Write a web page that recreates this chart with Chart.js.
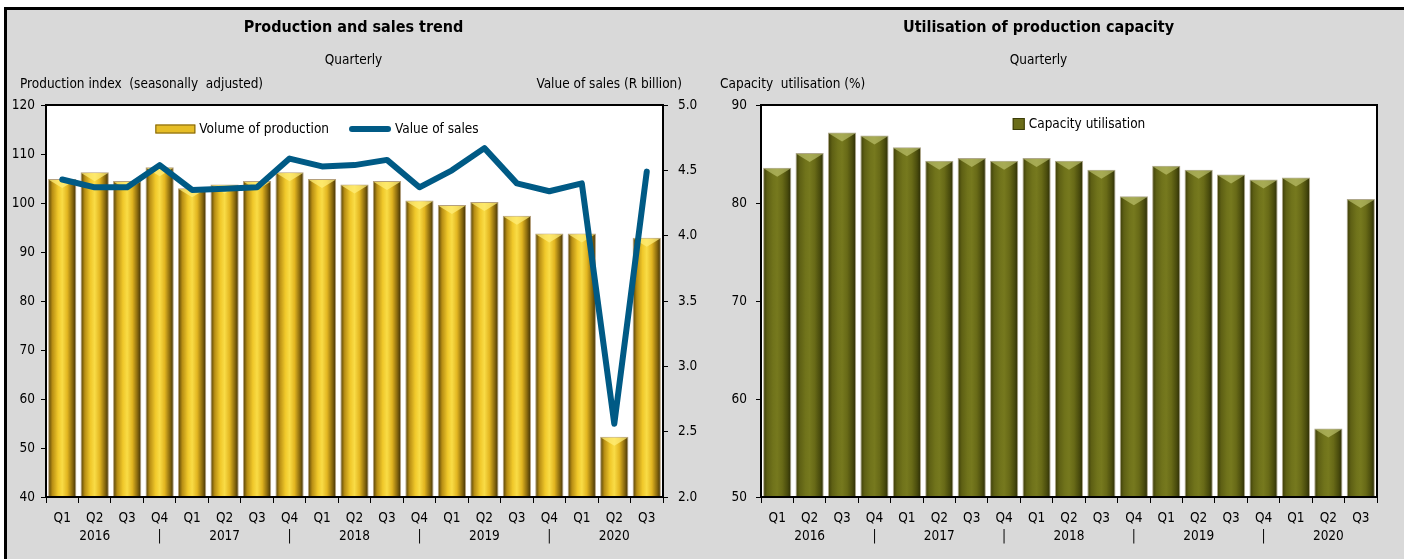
<!DOCTYPE html>
<html lang="en">
<head>
    <meta charset="UTF-8">
    <title>Production and capacity</title>
    <script src="https://cdn.jsdelivr.net/npm/chart.js"></script>
    <style>
        html, body { margin: 0; padding: 0; background: #fff; }
        .panel {
            position: absolute;
            left: 4px;
            top: 7px;
            width: 1397px;
            height: 549px;
            background: #d9d9d9;
            border-top: 3px solid #000;
            border-left: 3px solid #000;
        }
        #prodChart { position: absolute; left: 0; top: 0; }
        #capChart { position: absolute; left: 693px; top: 0; }
    </style>
</head>
<body>
    <div class="panel">
        <canvas id="prodChart" width="693" height="549"></canvas>
        <canvas id="capChart" width="704" height="549"></canvas>
    </div>

    <script>
        // Data
        const quarters = ['Q1', 'Q2', 'Q3', 'Q4', 'Q1', 'Q2', 'Q3', 'Q4', 'Q1', 'Q2', 'Q3', 'Q4',
                          'Q1', 'Q2', 'Q3', 'Q4', 'Q1', 'Q2', 'Q3'];
        const yearRow = ['', '2016', '', '|', '', '2017', '', '|', '', '2018', '', '|',
                         '', '2019', '', '|', '', '2020', ''];
        const productionVolume = [104.9, 106.3, 104.5, 107.3, 103.0, 103.8, 104.5, 106.3, 104.9, 103.8,
                                  104.5, 100.5, 99.6, 100.2, 97.4, 93.8, 93.8, 52.3, 92.9];
        const salesValue = [4.43, 4.37, 4.37, 4.54, 4.35, 4.36, 4.37, 4.59, 4.53, 4.54,
                            4.58, 4.37, 4.50, 4.67, 4.40, 4.34, 4.40, 2.56, 4.49];
        const capacityUtil = [83.6, 85.1, 87.2, 86.9, 85.7, 84.3, 84.6, 84.3, 84.6, 84.3,
                              83.4, 80.7, 83.8, 83.4, 82.9, 82.4, 82.6, 57.0, 80.4];

        const labels = quarters.map((q, i) => [q, yearRow[i]]);

        const FONT = "'Liberation Sans Narrow', 'Arial Narrow', 'DejaVu Sans Condensed', sans-serif";
        const FS = 13.5;
        Chart.defaults.font.family = FONT;
        Chart.defaults.font.size = FS;
        Chart.defaults.color = '#000';

        const BAR_PCT = 0.87;
        const goldStops = ['#4a3a08', '#b88e14', '#f0c82a', '#f9dc46', '#e2b520', '#8a6a0e', '#3a2c04'];
        const oliveStops = ['#3a3b08', '#5e6014', '#70731b', '#76791e', '#686a17', '#4a4c0d', '#2a2b05'];

        // horizontal gradient across each bar, positioned from the x scale
        function barFill(stops) {
            return (ctx) => {
                const chart = ctx.chart;
                const xs = chart.scales.x;
                if (ctx.type !== 'data' || !xs || !xs.width) return stops[3];
                const cx = xs.getPixelForValue(ctx.dataIndex);
                const half = xs.width / labels.length * BAR_PCT / 2;
                const g = chart.ctx.createLinearGradient(cx - half, 0, cx + half, 0);
                const pos = [0, 0.15, 0.35, 0.5, 0.68, 0.86, 1];
                stops.forEach((c, i) => g.addColorStop(pos[i], c));
                return g;
            };
        }

        // white plot area, black frame, bevel on bar tops, axis captions, legend inside the plot
        const plotFrame = {
            id: 'plotFrame',
            beforeDraw(chart) {
                const a = chart.chartArea;
                chart.ctx.save();
                chart.ctx.fillStyle = '#fff';
                chart.ctx.fillRect(a.left, a.top, a.right - a.left, a.bottom - a.top);
                chart.ctx.restore();
            },
            afterDatasetDraw(chart, args) {
                const meta = args.meta;
                if (meta.type !== 'bar') return;
                const c = chart.ctx;
                const light = chart.options.plugins.plotFrame.bevel;
                c.save();
                meta.data.forEach(bar => {
                    const w = bar.width, h = Math.min(9, w * 0.32);
                    c.fillStyle = light;
                    c.beginPath();
                    c.moveTo(bar.x - w / 2 + 1, bar.y + 1);
                    c.lineTo(bar.x + w / 2 - 1, bar.y + 1);
                    c.lineTo(bar.x, bar.y + h);
                    c.closePath();
                    c.fill();
                });
                c.restore();
            },
            afterDraw(chart) {
                const a = chart.chartArea;
                const c = chart.ctx;
                const o = chart.options.plugins.plotFrame;
                c.save();
                c.strokeStyle = '#000';
                c.lineWidth = 2;
                c.strokeRect(a.left, a.top, a.right - a.left, a.bottom - a.top);
                c.fillStyle = '#000';
                c.font = FS + 'px ' + FONT;
                c.textBaseline = 'middle';
                if (o.leftCaption) {
                    c.textAlign = 'left';
                    c.fillText(o.leftCaption, o.leftX, 74);
                }
                if (o.rightCaption) {
                    c.textAlign = 'right';
                    c.fillText(o.rightCaption, o.rightX, 74);
                }

                // legend
                const sw = o.swatches;
                const names = chart.data.datasets.map(d => d.label);
                const gap = 4, itemGap = 20;
                const widths = names.map((n, i) => sw[i].w + gap + c.measureText(n).width);
                const total = widths.reduce((s, w) => s + w, 0) + itemGap * (names.length - 1);
                let x = o.legendX - total / 2;
                const y = o.legendY;
                c.textAlign = 'left';
                names.forEach((n, i) => {
                    const s = sw[i];
                    if (s.line) {
                        c.strokeStyle = s.fill;
                        c.lineWidth = s.h;
                        c.lineCap = 'round';
                        c.beginPath();
                        c.moveTo(x + s.h / 2, y);
                        c.lineTo(x + s.w - s.h / 2, y);
                        c.stroke();
                    } else {
                        c.fillStyle = s.fill;
                        c.fillRect(x, y - s.h / 2, s.w, s.h);
                        c.strokeStyle = s.stroke;
                        c.lineWidth = 1;
                        c.strokeRect(x + 0.5, y - s.h / 2 + 0.5, s.w - 1, s.h - 1);
                    }
                    c.fillStyle = '#000';
                    c.fillText(n, x + s.w + gap, y);
                    x += widths[i] + itemGap;
                });
                c.restore();
            }
        };

        function xScale() {
            return {
                grid: { display: true, drawOnChartArea: false, drawTicks: true, tickLength: 6, color: '#000', offset: true },
                border: { display: true, color: '#000', width: 2 },
                ticks: { autoSkip: false, maxRotation: 0, padding: 6, font: { size: FS, lineHeight: 1.333 } }
            };
        }

        function titleOpts(text) {
            return { display: true, text: text, font: { size: 16, weight: 'bold', lineHeight: 1.2 }, padding: { top: 8, bottom: 8 } };
        }
        const subtitleOpts = { display: true, text: 'Quarterly', font: { size: FS, lineHeight: 1.2 }, padding: { top: 6.7, bottom: 36.9 } };

        // Production and sales trend
        new Chart(document.getElementById('prodChart'), {
            type: 'bar',
            data: {
                labels: labels,
                datasets: [{
                    label: 'Volume of production',
                    data: productionVolume,
                    yAxisID: 'y',
                    order: 1,
                    backgroundColor: barFill(goldStops),
                    borderColor: 'rgba(150,120,70,0.7)',
                    borderWidth: 1,
                    barPercentage: BAR_PCT,
                    categoryPercentage: 1
                }, {
                    type: 'line',
                    label: 'Value of sales',
                    data: salesValue,
                    yAxisID: 'y1',
                    order: 0,
                    borderColor: '#005a85',
                    backgroundColor: '#005a85',
                    borderWidth: 6,
                    borderJoinStyle: 'round',
                    borderCapStyle: 'round',
                    pointRadius: 0,
                    tension: 0
                }]
            },
            options: {
                responsive: false,
                animation: false,
                devicePixelRatio: 1,
                layout: { padding: { left: 0, right: 0, top: 0, bottom: 8 } },
                plugins: {
                    title: titleOpts('Production and sales trend'),
                    subtitle: subtitleOpts,
                    tooltip: { enabled: false },
                    legend: { display: false },
                    plotFrame: {
                        bevel: 'rgba(255,238,120,0.75)',
                        leftCaption: 'Production index  (seasonally  adjusted)',
                        leftX: 13,
                        rightCaption: 'Value of sales (R billion)',
                        rightX: 675,
                        legendX: 310,
                        legendY: 119,
                        swatches: [
                            { w: 40, h: 9, fill: '#e6bd26', stroke: '#7a5f10' },
                            { w: 42, h: 6, fill: '#005a85', line: true }
                        ]
                    }
                },
                scales: {
                    x: xScale(),
                    y: {
                        position: 'left',
                        min: 40,
                        max: 120,
                        afterFit(scale) { scale.width = 39; },
                        grid: { display: true, drawOnChartArea: false, drawTicks: true, tickLength: 5, color: '#000' },
                        border: { display: true, color: '#000', width: 2 },
                        ticks: { stepSize: 10, padding: 6 }
                    },
                    y1: {
                        position: 'right',
                        min: 2.0,
                        max: 5.0,
                        afterFit(scale) { scale.width = 37; },
                        grid: { display: true, drawOnChartArea: false, drawTicks: true, tickLength: 5, color: '#000' },
                        border: { display: true, color: '#000', width: 2 },
                        ticks: { stepSize: 0.5, padding: 10, callback: v => Number(v).toFixed(1) }
                    }
                }
            },
            plugins: [plotFrame]
        });

        // Utilisation of production capacity
        new Chart(document.getElementById('capChart'), {
            type: 'bar',
            data: {
                labels: labels,
                datasets: [{
                    label: 'Capacity utilisation',
                    data: capacityUtil,
                    backgroundColor: barFill(oliveStops),
                    borderColor: 'rgba(140,130,90,0.7)',
                    borderWidth: 1,
                    barPercentage: BAR_PCT,
                    categoryPercentage: 1
                }]
            },
            options: {
                responsive: false,
                animation: false,
                devicePixelRatio: 1,
                layout: { padding: { left: 0, right: 27, top: 0, bottom: 8 } },
                plugins: {
                    title: titleOpts('Utilisation of production capacity'),
                    subtitle: subtitleOpts,
                    tooltip: { enabled: false },
                    legend: { display: false },
                    plotFrame: {
                        bevel: 'rgba(200,205,120,0.6)',
                        leftCaption: 'Capacity  utilisation (%)',
                        leftX: 20,
                        legendX: 379,
                        legendY: 114,
                        swatches: [
                            { w: 12, h: 12, fill: '#6a6c18', stroke: '#3a3b08' }
                        ]
                    }
                },
                scales: {
                    x: xScale(),
                    y: {
                        position: 'left',
                        min: 50,
                        max: 90,
                        afterFit(scale) { scale.width = 61; },
                        grid: { display: true, drawOnChartArea: false, drawTicks: true, tickLength: 5, color: '#000' },
                        border: { display: true, color: '#000', width: 2 },
                        ticks: { stepSize: 10, padding: 9 }
                    }
                }
            },
            plugins: [plotFrame]
        });
    </script>
</body>
</html>
